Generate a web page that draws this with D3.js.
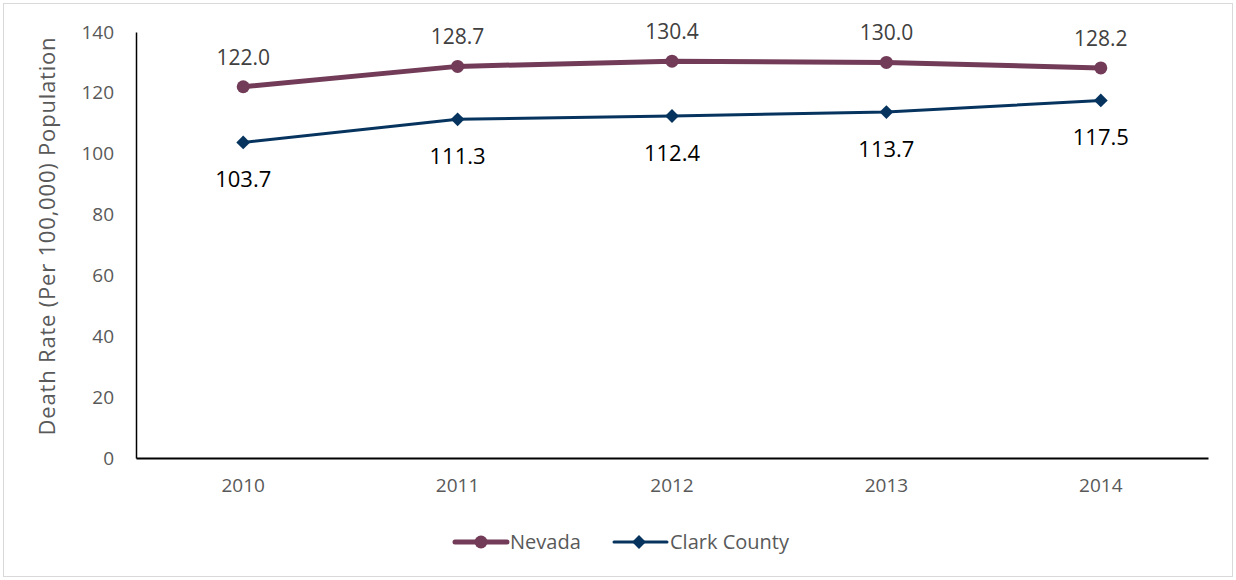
<!DOCTYPE html>
<html><head><meta charset="utf-8">
<script src="https://cdn.jsdelivr.net/npm/d3@7"></script>
<style>body{margin:0;background:#fff}svg{display:block;font-family:"Open Sans",sans-serif}</style>
</head><body><svg id="c" width="1236" height="580"></svg>
<script>
const years = ["2010","2011","2012","2013","2014"];
const nevada = [122.0,128.7,130.4,130.0,128.2];
const clark = [103.7,111.3,112.4,113.7,117.5];
const yTicks = [0,20,40,60,80,100,120,140];
const seriesNames = ["Nevada","Clark County"];
const FONT = '"Open Sans",sans-serif';

const svg = d3.select("#c");
svg.append("rect").attr("x",3.5).attr("y",3.5).attr("width",1229).attr("height",573)
  .attr("fill","#fff").attr("stroke","#d9d9d9").attr("stroke-width",1);

const x = d3.scaleBand().domain(years).range([136,1208]);
const y = d3.scaleLinear().domain([0,140]).range([458,32]);
const cx = d => x(d)+x.bandwidth()/2;

const yAx = svg.append("g").attr("transform","translate(136,0)")
  .call(d3.axisLeft(y).tickValues(yTicks).tickSize(0).tickPadding(22));
yAx.select(".domain").attr("stroke","#000").attr("stroke-width",1.5);
yAx.selectAll("text").attr("font-size",19).attr("fill","#595959").attr("font-family",FONT);

const xAx = svg.append("g").attr("transform","translate(0,458)")
  .call(d3.axisBottom(x).tickSize(0).tickPadding(21));
xAx.select(".domain").attr("stroke","#000").attr("stroke-width",2);
xAx.selectAll("text").attr("font-size",19).attr("fill","#595959").attr("font-family",FONT);

svg.append("text").attr("transform","translate(55,236) rotate(-90)")
  .attr("text-anchor","middle").attr("font-size",22).attr("letter-spacing",0.8).attr("fill","#595959")
  .text("Death Rate (Per 100,000) Population");

const line = d3.line().x((d,i)=>cx(years[i])).y(d=>y(d));
const colN = "#723B58", colC = "#06345F";

svg.append("path").datum(nevada).attr("d",line).attr("fill","none").attr("stroke",colN).attr("stroke-width",5).attr("stroke-linejoin","round");
svg.append("path").datum(clark).attr("d",line).attr("fill","none").attr("stroke",colC).attr("stroke-width",3).attr("stroke-linejoin","round");

svg.selectAll(".mn").data(nevada).join("circle").attr("cx",(d,i)=>cx(years[i])).attr("cy",d=>y(d)).attr("r",6.5).attr("fill",colN);
const dia = d3.symbol().type(d3.symbolSquare).size(95);
svg.selectAll(".mc").data(clark).join("path").attr("d",dia).attr("transform",(d,i)=>`translate(${cx(years[i])},${y(d)}) rotate(45)`).attr("fill",colC);

svg.selectAll(".ln").data(nevada).join("text").attr("x",(d,i)=>cx(years[i])).attr("y",d=>y(d)-22)
  .attr("text-anchor","middle").attr("font-size",21).attr("fill","#404040").text(d=>d.toFixed(1));
svg.selectAll(".lc").data(clark).join("text").attr("x",(d,i)=>cx(years[i])).attr("y",d=>y(d)+45)
  .attr("text-anchor","middle").attr("font-size",22).attr("fill","#000").text(d=>d.toFixed(1));

const lg = svg.append("g");
lg.append("line").attr("x1",455).attr("x2",507).attr("y1",542).attr("y2",542).attr("stroke",colN).attr("stroke-width",5).attr("stroke-linecap","round");
lg.append("circle").attr("cx",481).attr("cy",542).attr("r",6.5).attr("fill",colN);
lg.append("text").attr("x",510).attr("y",549).attr("font-size",20).attr("fill","#595959").text(seriesNames[0]);
lg.append("line").attr("x1",614).attr("x2",667).attr("y1",542).attr("y2",542).attr("stroke",colC).attr("stroke-width",3).attr("stroke-linecap","round");
lg.append("path").attr("d",dia).attr("transform","translate(639,542) rotate(45)").attr("fill",colC);
lg.append("text").attr("x",670).attr("y",549).attr("font-size",20).attr("fill","#595959").text(seriesNames[1]);
</script></body></html>
